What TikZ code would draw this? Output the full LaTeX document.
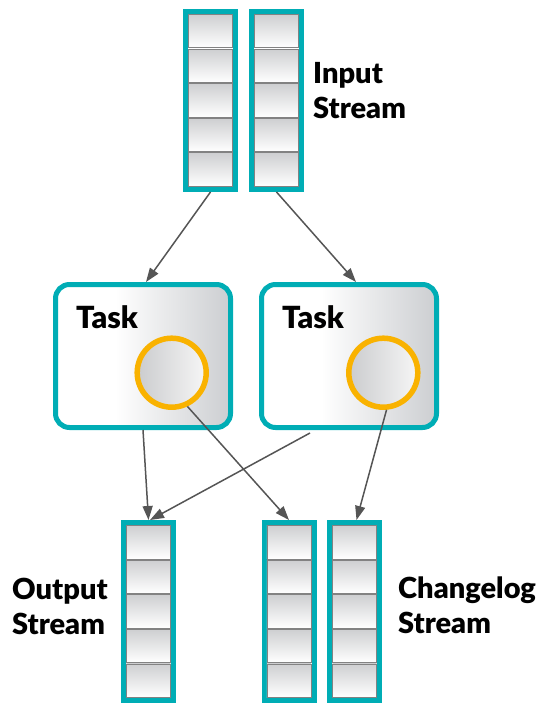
\documentclass[tikz,border=0pt]{standalone}
\usepackage{fontspec}
\setmainfont{Lato}[BoldFont={Lato Black}]
\usetikzlibrary{arrows.meta,calc}

\definecolor{kteal}{RGB}{0,173,181}
\definecolor{korange}{RGB}{249,178,0}
\definecolor{kgray}{RGB}{85,85,85}
\definecolor{cellgray}{RGB}{206,207,209}
\definecolor{celledge}{RGB}{130,130,130}
\definecolor{taskgray}{RGB}{204,206,209}
\definecolor{storedark}{RGB}{203,204,206}
\definecolor{storelight}{RGB}{246,246,246}

% white on the left third, fading to grey on the right
\pgfdeclarehorizontalshading{taskfill}{100bp}{color(0bp)=(white); color(25bp)=(white); color(42bp)=(white); color(75bp)=(taskgray); color(100bp)=(taskgray)}

\tikzset{
  stream/.style={draw=kteal, line width=5pt, fill=white, inner sep=0pt,
    minimum width=50pt, minimum height=178pt},
  cell/.style={draw=celledge, line width=0.8pt,
    top color=cellgray, bottom color=white},
  task/.style={draw=kteal, line width=5pt, rounded corners=14pt, inner sep=0pt,
    minimum width=175pt, minimum height=143pt, shading=taskfill},
  store/.style={circle, draw=korange, line width=5.5pt, inner sep=0pt,
    minimum size=69pt, left color=storedark, right color=storelight},
  flow/.style={draw=kgray, line width=1.5pt, -{Triangle[length=14pt,width=10pt]}},
  streamlabel/.style={font=\bfseries\fontsize{29}{35}\selectfont, align=left,
    anchor=north west, inner sep=0pt},
  tasklabel/.style={font=\bfseries\fontsize{30.5}{35}\selectfont, anchor=base west, inner sep=0pt}
}

% a stream: teal frame holding five record cells
\newcommand\streamcol[3]{%
  \node[stream] (#1) at (#2,#3) {};
  \foreach \k in {0,...,4}
    \draw[cell] ($(#1.north west)+(5.4,{5.5+\k*34.6})$) rectangle ++(44.2,33.4);
}

\begin{document}
\begin{tikzpicture}[x=1pt,y=-1pt]
  \useasboundingbox (0,0) rectangle (537,703);

  % input streams
  \streamcol{in1}{210.5}{100.5}
  \streamcol{in2}{276.5}{100.5}
  \node[streamlabel] (inlbl) at (313,62) {Input\\Stream};

  % tasks with their local stores
  \node[task] (t1) at (143,356) {};
  \node[task] (t2) at (349,356) {};
  \node[tasklabel] (t1lbl) at (76,328.5) {Task};
  \node[tasklabel] (t2lbl) at (282,328.5) {Task};
  \node[store] (c1) at (171.7,372.7) {};
  \node[store] (c2) at (383.3,372.7) {};

  % output and changelog streams
  \streamcol{out}{148.5}{611.5}
  \streamcol{cl1}{289}{611.5}
  \streamcol{cl2}{354.5}{611.5}
  \node[streamlabel] (outlbl) at (12,578) {Output\\Stream};
  \node[streamlabel] (cllbl) at (398,577) {Changelog\\Stream};

  % data flow
  \draw[flow] (in1.south) -- ($(t1.north)+(3,0)$);
  \draw[flow] (in2.south) -- ($(t2.north)+(7,0)$);
  \draw[flow] (t1.south) -- (out.north);
  \draw[flow] ($(t2.south)+(-39,3)$) -- ($(out.north)+(1.5,0)$);
  \draw[flow] (c1.-65) -- (cl1.north);
  \draw[flow] (c2.-85) -- ($(cl2.north)+(2,0)$);
\end{tikzpicture}
\end{document}
